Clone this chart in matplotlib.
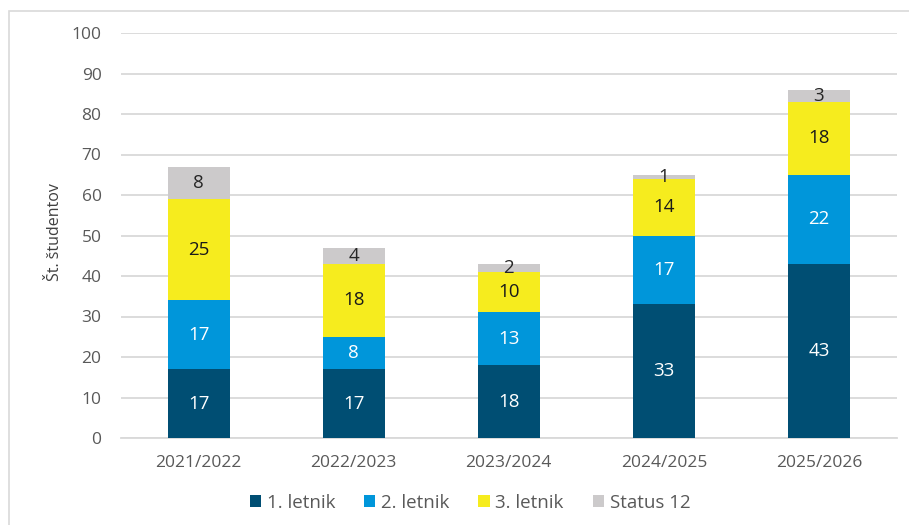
import matplotlib
matplotlib.use("Agg")
import matplotlib.pyplot as plt
from matplotlib.patches import Rectangle
import numpy as np

categories = ["2021/2022", "2022/2023", "2023/2024", "2024/2025", "2025/2026"]
letnik1 = [17, 17, 18, 33, 43]
letnik2 = [17, 8, 13, 17, 22]
letnik3 = [25, 18, 10, 14, 18]
status12 = [8, 4, 2, 1, 3]
series_names = ["1. letnik", "2. letnik", "3. letnik", "Status 12"]
colors = ["#004E73", "#0096DA", "#F6EC1E", "#CCCACB"]
label_colors = ["white", "white", "#1a1a1a", "#262626"]

plt.rcParams['font.family'] = ['Open Sans', 'DejaVu Sans']

fig = plt.figure(figsize=(9.09, 5.25), dpi=100)
ax = fig.add_axes([121/909, 1-438/525, (896.5-121)/909, (438-33)/525])

# border around chart area (left & top visible)
fig.patches.append(Rectangle((9/909, -0.1), 1.2, 1 - 11/525 + 0.1, transform=fig.transFigure,
                             fill=False, edgecolor="#D9D9D9", linewidth=1.2))

x = np.arange(len(categories))
bottom = np.zeros(len(categories))
for vals, name, c, lc in zip([letnik1, letnik2, letnik3, status12], series_names, colors, label_colors):
    vals = np.array(vals, dtype=float)
    ax.bar(x, vals, 0.4, bottom=bottom, color=c, label=name, zorder=3)
    for xi, b, v in zip(x, bottom, vals):
        ax.text(xi, b + v/2, f"{int(v)}", ha="center", va="center", color=lc, fontsize=13.5, zorder=4)
    bottom += vals

ax.set_xlim(-0.5, len(categories) - 0.5)
ax.set_ylim(0, 100)
ax.set_yticks(range(0, 101, 10))
ax.set_xticks(x)
ax.set_xticklabels(categories)
ax.yaxis.grid(True, color="#D9D9D9", linewidth=1.3, zorder=0)
ax.set_axisbelow(True)
for s in ["top", "right", "left"]:
    ax.spines[s].set_visible(False)
ax.spines["bottom"].set_color("#D9D9D9")
ax.spines["bottom"].set_linewidth(1.3)
ax.tick_params(axis="both", length=0, labelsize=12.5, labelcolor="#595959")
ax.tick_params(axis="y", pad=14)
ax.tick_params(axis="x", pad=12)

fig.text(55/909, 1-232/525, "Št. študentov", rotation=90, ha="center", va="center",
         fontsize=11.5, color="#404040")

fig.legend(loc="center", bbox_to_anchor=(470/909, 1-503/525), ncol=4, frameon=False,
           handlelength=0.6, handleheight=0.6, handletextpad=0.3, columnspacing=1.55,
           fontsize=13.5, labelcolor="#595959")

fig.savefig("out.png", dpi=100)
